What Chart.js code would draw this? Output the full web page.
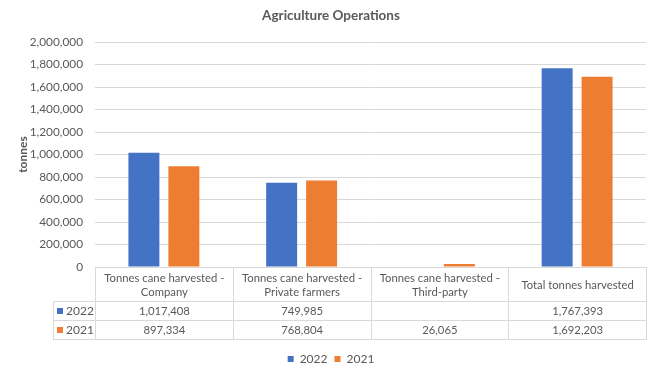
<!DOCTYPE html>
<html>
<head>
<meta charset="utf-8">
<title>Agriculture Operations</title>
<script src="https://cdn.jsdelivr.net/npm/chart.js@4.4.1/dist/chart.umd.min.js"></script>
<style>
  body { margin: 0; background: #fff; }
  #wrap { position: relative; width: 657px; height: 375px; }
  #dataTable {
    position: absolute;
    border-collapse: collapse;
    table-layout: fixed;
    font-family: Lato, sans-serif;
    font-size: 11.3px;
    color: #595959;
  }
  #dataTable td {
    border: 1px solid #d9d9d9;
    text-align: center;
    padding: 0;
    line-height: 14px;
    white-space: nowrap;
  }
  #dataTable td.corner { border: none; }
  #dataTable td.key { text-align: left; padding-left: 3px; font-size: 12px; }
  .sw { display: inline-block; width: 6px; height: 6px; margin-right: 3px; vertical-align: 1px; }
</style>
</head>
<body>
<div id="wrap">
  <canvas id="opsChart" width="657" height="375"></canvas>
  <table id="dataTable"></table>
</div>
<script>
// ── Data ──────────────────────────────────────
const categories = [
  ['Tonnes cane harvested -', 'Company'],
  ['Tonnes cane harvested -', 'Private farmers'],
  ['Tonnes cane harvested -', 'Third-party'],
  ['Total tonnes harvested'],
];
const seriesNames = ['2022', '2021'];
const values2022  = [1017408, 749985, null, 1767393];
const values2021  = [897334, 768804, 26065, 1692203];
const yMax  = 2000000;
const yStep = 200000;

const BLUE   = '#4472C4';
const ORANGE = '#ED7D31';
const TEXT   = '#595959';
const GRID   = '#D9D9D9';
const FONT   = 'Lato, sans-serif';

const fmt = v => (v == null ? '' : v.toLocaleString('en-US'));

// ── Chart ─────────────────────────────────────
const chart = new Chart(document.getElementById('opsChart'), {
  type: 'bar',
  data: {
    labels: categories.map(c => c.join(' ')),
    datasets: [
      { label: seriesNames[0], data: values2022, backgroundColor: BLUE },
      { label: seriesNames[1], data: values2021, backgroundColor: ORANGE },
    ],
  },
  options: {
    responsive: false,
    devicePixelRatio: 1,
    animation: false,
    categoryPercentage: 0.58,
    barPercentage: 0.775,
    layout: { padding: { left: 16, right: 11, top: 0, bottom: 0 } },
    plugins: {
      title: {
        display: true,
        text: 'Agriculture Operations',
        color: TEXT,
        font: { family: FONT, size: 13.5, weight: 'bold' },
        padding: { top: 8, bottom: 18 },
      },
      legend: {
        position: 'bottom',
        labels: {
          boxWidth: 6,
          boxHeight: 6,
          color: TEXT,
          font: { family: FONT, size: 12 },
          padding: 7,
        },
      },
      tooltip: { enabled: false },
    },
    scales: {
      x: {
        grid: { display: false },
        border: { display: false },
        ticks: { display: false },
        afterFit: s => { s.height = 79; },   // room for the data table
      },
      y: {
        min: 0,
        max: yMax,
        grid: { color: GRID, drawTicks: false },
        border: { display: false },
        ticks: {
          stepSize: yStep,
          padding: 12,
          color: TEXT,
          font: { family: FONT, size: 11.8 },
          callback: v => fmt(v),
        },
        title: {
          display: true,
          text: 'tonnes',
          color: TEXT,
          font: { family: FONT, size: 12, weight: 'bold' },
          padding: { top: 0, bottom: 0 },
        },
        afterFit: s => { s.width = 79; },
      },
    },
  },
});

// ── Data table under the axis ─────────────────
function buildTable() {
  const area = chart.chartArea;
  const keyW = 42;
  const colW = (area.right - area.left) / categories.length;
  const table = document.getElementById('dataTable');
  table.style.left = (area.left - keyW) + 'px';
  table.style.top  = area.bottom + 'px';
  table.style.width = (keyW + colW * categories.length + 1) + 'px';

  let html = '<colgroup><col style="width:' + keyW + 'px">';
  categories.forEach(() => { html += '<col style="width:' + colW + 'px">'; });
  html += '</colgroup>';

  html += '<tr style="height:34px"><td class="corner"></td>';
  categories.forEach(c => { html += '<td>' + c.join('<br>') + '</td>'; });
  html += '</tr>';

  [[seriesNames[0], values2022, BLUE], [seriesNames[1], values2021, ORANGE]].forEach(([name, vals, col]) => {
    html += '<tr style="height:19px"><td class="key"><span class="sw" style="background:' + col + '"></span>' + name + '</td>';
    vals.forEach(v => { html += '<td>' + fmt(v) + '</td>'; });
    html += '</tr>';
  });
  table.innerHTML = html;
}

buildTable();
</script>
</body>
</html>
